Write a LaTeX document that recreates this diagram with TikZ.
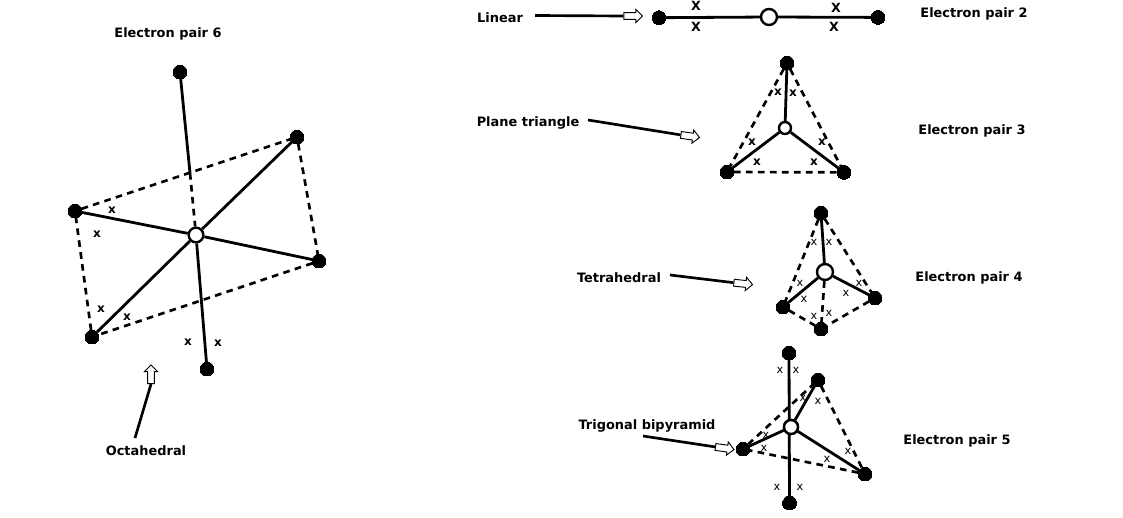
\documentclass[tikz,border=0pt]{standalone}
\usepackage{fontspec}
\setmainfont{DejaVu Sans}
\usetikzlibrary{shapes.arrows}
\tikzset{
  x=0.75pt,y=-0.75pt,
  dot/.style={circle,fill=black,draw=black,line width=0pt,inner sep=0pt,minimum size=10.4pt},
  hub/.style={circle,fill=white,draw=black,line width=1.8pt,inner sep=0pt,minimum size=10pt},
  bond/.style={line width=2.1pt,black},
  edge/.style={line width=2pt,black,dash pattern=on 5pt off 4pt},
  lead/.style={line width=2pt,black},
  holl/.style={single arrow,draw=black,fill=white,line width=0.7pt,inner xsep=0pt,inner ysep=2.2pt,minimum width=10pt,
    minimum height=14pt,single arrow head extend=2.4pt,single arrow head indent=0pt},
  lab/.style={font=\fontsize{9.7pt}{11pt}\selectfont\bfseries,inner sep=0pt,anchor=center},
  xm/.style={font=\fontsize{9pt}{10pt}\selectfont\bfseries,inner sep=0pt,anchor=center},
  xbig/.style={font=\fontsize{9.5pt}{11pt}\selectfont\bfseries,inner sep=0pt,anchor=center},
  xlight/.style={font=\fontsize{8.5pt}{10pt}\selectfont,inner sep=0pt,anchor=center},
}
\begin{document}
\begin{tikzpicture}
\useasboundingbox (0,0) rectangle (1123,517);
% Labels
\node[lab] (l6) at (168,34) {Electron pair 6};
\node[lab] (lLin) at (500,18) {Linear};
\node[lab] (l2) at (974,14) {Electron pair 2};
\node[lab] (lPlane) at (528,123) {Plane triangle};
\node[lab] (l3) at (972,131) {Electron pair 3};
\node[lab] (lTet) at (619,278) {Tetrahedral};
\node[lab] (l4) at (969,278) {Electron pair 4};
\node[lab] (lTri) at (647,426) {Trigonal bipyramid};
\node[lab] (l5) at (957,441) {Electron pair 5};
\node[lab] (lOct) at (146,451) {Octahedral};
% Lead arrows
\node[holl] (a1) at (631.5,16) {};
\coordinate (s1) at (535,15.5);
\draw[lead] (s1) -- (a1.tail);
\node[holl,rotate=-8] (a2) at (688.5,136) {};
\coordinate (s2) at (588,120);
\draw[lead] (s2) -- (a2.tail);
\node[holl,rotate=-6] (a3) at (741.5,283.5) {};
\coordinate (s3) at (670,275);
\draw[lead] (s3) -- (a3.tail);
\node[holl,rotate=-8] (a4) at (723,448) {};
\coordinate (s4) at (643,436);
\draw[lead] (s4) -- (a4.tail);
\node[holl,rotate=90] (a5) at (151,376) {};
\coordinate (s5) at (135,438);
\draw[lead] (s5) -- (a5.tail);
% Octahedral
\node[dot] (oT) at (180,72) {};
\node[dot] (oU) at (297,137) {};
\node[dot] (oL) at (75,211) {};
\node[dot] (oR) at (319,261) {};
\node[dot] (oD) at (92,337) {};
\node[dot] (oB) at (207,369) {};
\coordinate (oK) at (190,173);
\node[hub,minimum size=11pt] (oC) at (196,235) {};
\draw[edge] (oL) -- (oU);
\draw[edge] (oU) -- (oR);
\draw[edge] (oR) -- (oD);
\draw[edge] (oD) -- (oL);
\draw[edge] (oK) -- (oC);
\draw[bond] (oT) -- (oK);
\draw[bond] (oU) -- (oC);
\draw[bond] (oD) -- (oC);
\draw[bond] (oL) -- (oC);
\draw[bond] (oR) -- (oC);
\draw[bond] (oB) -- (oC);
\foreach \p [count=\i] in {(112,210),(97,234),(101,309),(127,317),(188,342),(218,343)}
  \node[xm,name=ox\i] at \p {x};
% Linear
\node[dot] (lA) at (659,17.7) {};
\node[dot] (lB) at (878,17.4) {};
\node[hub,minimum size=12pt] (lC) at (769,17) {};
\draw[bond] (lA) -- (lC);
\draw[bond] (lC) -- (lB);
\foreach \p [count=\i] in {(696,6),(696,27),(836,8),(834,27)}
  \node[xbig,name=lx\i] at \p {X};
% Plane triangle
\node[dot] (pT) at (787,63) {};
\node[dot] (pL) at (727,172) {};
\node[dot] (pR) at (844,172.4) {};
\node[hub,minimum size=9pt] (pC) at (785,128) {};
\draw[edge] (pT) -- (pL);
\draw[edge] (pT) -- (pR);
\draw[edge] (pL) -- (pR);
\draw[bond] (pT) -- (pC);
\draw[bond] (pL) -- (pC);
\draw[bond] (pR) -- (pC);
\foreach \p [count=\i] in {(778,92),(793,93),(752,142),(822,142),(757,162),(814,162)}
  \node[xm,name=px\i] at \p {x};
% Tetrahedral
\node[dot] (tT) at (821,213) {};
\node[dot] (tL) at (783,307) {};
\node[dot] (tR) at (875,298) {};
\node[dot] (tB) at (821,329) {};
\node[hub,minimum size=10pt,minimum width=12pt] (tC) at (825,272) {};
\draw[edge] (tT) -- (tL);
\draw[edge] (tT) -- (tR);
\draw[edge] (tL) -- (tB);
\draw[edge] (tR) -- (tB);
\draw[edge] (tC) -- (tB);
\draw[bond] (tT) -- (tC);
\draw[bond] (tL) -- (tC);
\draw[bond] (tR) -- (tC);
\foreach \p [count=\i] in {(814,242),(829,242),(800,283),(859,283),(804,299),(846,293),(814,316),(829,313)}
  \node[xlight,name=tx\i] at \p {x};
% Trigonal bipyramid
\node[dot] (bT) at (789,353) {};
\node[dot] (bB) at (789.5,503) {};
\node[dot] (bK) at (818,380) {};
\node[dot] (bL) at (743,449) {};
\node[dot] (bR) at (865,474) {};
\node[hub,minimum size=10.5pt] (bC) at (791,427) {};
\draw[edge] (bL) -- (bK);
\draw[edge] (bK) -- (bR);
\draw[edge] (bR) -- (bL);
\draw[bond] (bT) -- (bB);
\draw[bond] (bK) -- (bC);
\draw[bond] (bL) -- (bC);
\draw[bond] (bR) -- (bC);
\node[hub,minimum size=10.5pt] (bC2) at (791,427) {};
\foreach \p [count=\i] in {(780,370),(796,370),(803,398),(818,401),(766,435),(764,448),(827,459),(848,451),(777,487),(800,487)}
  \node[xlight,name=bx\i] at \p {x};
\end{tikzpicture}
\end{document}
